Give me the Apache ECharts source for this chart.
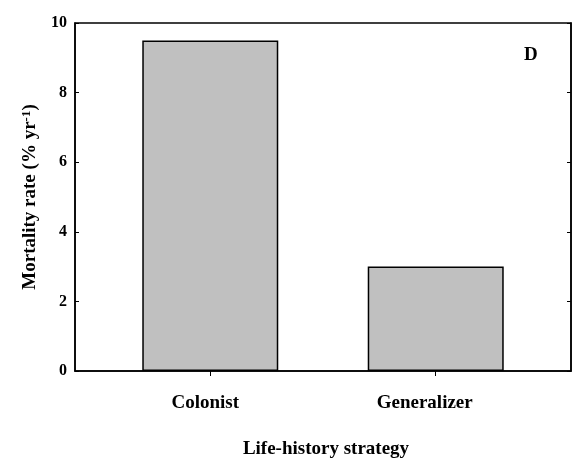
<!DOCTYPE html>
<html>
<head>
<meta charset="utf-8">
<script src="https://cdn.jsdelivr.net/npm/echarts@6/dist/echarts.min.js"></script>
<style>
html,body{margin:0;padding:0;background:#fff;}
#chart{width:573px;height:462px;}
</style>
</head>
<body>
<div id="chart"></div>
<script>
var categories = ['Colonist', 'Generalizer'];
var categoryPositions = [1, 2];
var mortality = [9.5, 3.0];
var yTickValues = [0, 2, 4, 6, 8, 10];
var panelLabel = 'D';

var FONT = "'Liberation Serif', 'Times New Roman', serif";
var chart = echarts.init(document.getElementById('chart'), null, {renderer: 'canvas'});

var barData = categoryPositions.map(function (p, i) { return [p, mortality[i]]; });
var labelStyle = {fontFamily: FONT, fontWeight: 'bold', fontSize: 19, color: '#000'};

chart.setOption({
  animation: false,
  backgroundColor: '#fff',
  grid: {left: 75, right: 2, top: 23, bottom: 91, show: true, borderColor: '#000', borderWidth: 1.5, backgroundColor: 'transparent', containLabel: false, outerBoundsMode: 'none'},
  xAxis: [{
    type: 'value', min: 0.4, max: 2.6,
    axisLine: {show: true, onZero: false, lineStyle: {color: '#000', width: 1.5}},
    axisTick: {show: true, inside: false, length: 5, customValues: categoryPositions, lineStyle: {color: '#000', width: 1}},
    axisLabel: {show: true, margin: 23, customValues: categoryPositions,
      formatter: function (v) { var i = categoryPositions.indexOf(Math.round(v)); return i >= 0 ? '{c' + i + '|' + categories[i] + '}' : ''; },
      color: '#000', fontFamily: FONT, fontWeight: 'bold', fontSize: 19,
      rich: {
        c0: Object.assign({padding: [0, 10, 0, 0]}, labelStyle),
        c1: Object.assign({padding: [0, 22, 0, 0]}, labelStyle)
      }},
    splitLine: {show: false},
    name: 'Life-history strategy', nameLocation: 'middle', nameGap: 69,
    nameTextStyle: {color: '#000', fontFamily: FONT, fontWeight: 'bold', fontSize: 19, padding: [0, 0, 0, 6]}
  }],
  yAxis: [{
    type: 'value', min: 0, max: 10, interval: 2, position: 'left',
    axisLine: {show: true, lineStyle: {color: '#000', width: 1.5}},
    axisTick: {show: true, inside: true, length: 4, lineStyle: {color: '#000', width: 1}},
    axisLabel: {margin: 8, color: '#000', fontFamily: FONT, fontWeight: 'bold', fontSize: 16,
      formatter: function (v) { return yTickValues.indexOf(v) >= 0 ? String(v) : ''; }},
    splitLine: {show: false},
    name: '{n|Mortality rate (% yr}{s|-1}{n|)}', nameLocation: 'middle', nameGap: 35, nameRotate: 90,
    nameTextStyle: {color: '#000', fontFamily: FONT, fontWeight: 'bold', fontSize: 19,
      rich: {n: {fontFamily: FONT, fontWeight: 'bold', fontSize: 19, color: '#000'},
             s: {fontFamily: FONT, fontWeight: 'bold', fontSize: 13, color: '#000', verticalAlign: 'top', padding: [0, 0, 7, 0]}}}
  }, {
    type: 'value', min: 0, max: 10, interval: 2, position: 'right',
    axisLine: {show: true, lineStyle: {color: '#000', width: 1.5}},
    axisTick: {show: true, inside: true, length: 4, lineStyle: {color: '#000', width: 1}},
    axisLabel: {show: false},
    splitLine: {show: false}
  }],
  series: [{
    type: 'bar',
    data: barData,
    barWidth: 136,
    itemStyle: {color: '#c0c0c0', borderColor: '#000', borderWidth: 1.5}
  }],
  graphic: [{
    type: 'text', left: 524, top: 46,
    style: {text: panelLabel, fill: '#000', font: "bold 19px 'Liberation Serif', 'Times New Roman', serif"}
  }]
});
</script>
</body>
</html>
